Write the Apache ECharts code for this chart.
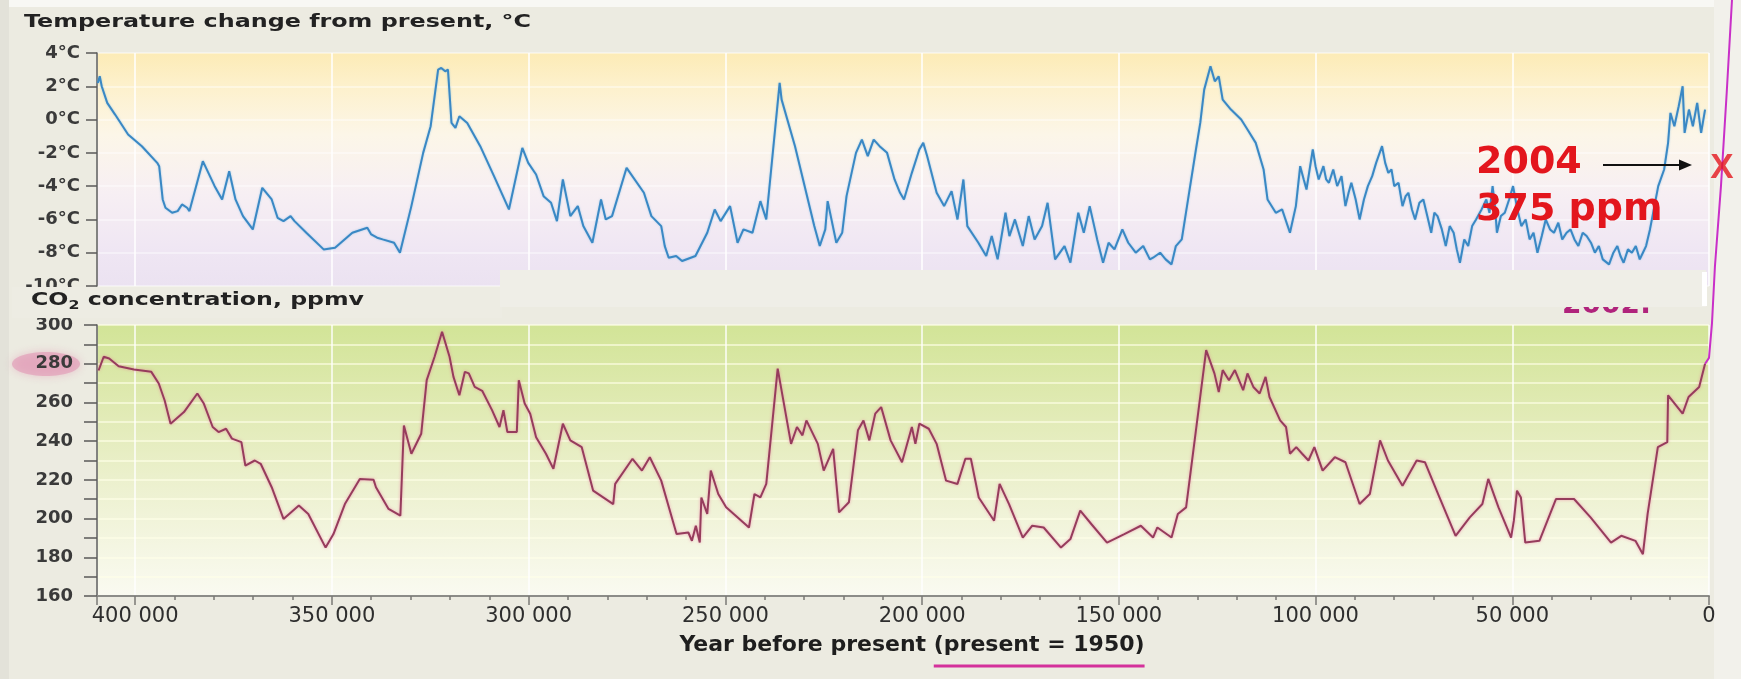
<!DOCTYPE html>
<html><head><meta charset="utf-8">
<script src="https://cdn.jsdelivr.net/npm/echarts@6/dist/echarts.min.js"></script>
<style>html,body{margin:0;padding:0;background:#ecebe1;}#c{width:1741px;height:679px;}</style>
</head><body><div id="c"></div>
<script>
// Temperature change from present (°C), [year before present, value]
const tempSeries = [
[409500,2.2],[409000,2.6],[408500,2.0],[407100,1.0],[405100,0.3],[401800,-0.9],[398300,-1.6],[394400,-2.6],[393900,-2.8],[393000,-4.8],[392300,-5.3],[390600,-5.6],[389200,-5.5],[388100,-5.1],[386800,-5.3],[386200,-5.5],[382800,-2.5],[379800,-4.0],[377900,-4.8],[376100,-3.1],[374500,-4.8],[372600,-5.8],[370100,-6.6],[367700,-4.1],[365300,-4.8],[363800,-5.9],[362300,-6.1],[360500,-5.8],[359500,-6.1],[356500,-6.8],[352100,-7.8],[349200,-7.7],[344800,-6.8],[341000,-6.5],[340000,-6.9],[338500,-7.1],[337100,-7.2],[334200,-7.4],[332700,-8.0],[329800,-5.2],[326800,-2.0],[324900,-0.4],[323000,3.0],[322200,3.1],[321200,2.9],[320500,3.0],[319600,-0.2],[318600,-0.5],[317600,0.2],[315600,-0.2],[312300,-1.6],[308800,-3.4],[305000,-5.4],[301600,-1.7],[300100,-2.6],[298100,-3.3],[296200,-4.6],[294300,-5.0],[292800,-6.1],[291300,-3.6],[289400,-5.8],[287500,-5.2],[286100,-6.4],[283800,-7.4],[281600,-4.8],
[280400,-6.0],[278800,-5.8],[275100,-2.9],[270700,-4.4],[268800,-5.8],[266300,-6.4],[265400,-7.6],[264400,-8.3],[262500,-8.2],[261000,-8.5],[257600,-8.2],[254600,-6.8],[252700,-5.4],[251200,-6.1],[248800,-5.2],[246900,-7.4],[245400,-6.6],[243100,-6.8],[241100,-4.9],[239600,-6.0],[236200,2.2],[235700,1.2],[232300,-1.6],[227400,-6.4],[226000,-7.6],[224600,-6.6],[224000,-4.9],[221800,-7.4],[220300,-6.8],[219200,-4.6],[216800,-2.0],[215300,-1.2],[213800,-2.2],[212300,-1.2],[210800,-1.6],[208900,-2.0],[207000,-3.6],[205600,-4.4],[204600,-4.8],[202600,-3.2],[200700,-1.8],[199700,-1.4],[198700,-2.2],[196300,-4.4],[194400,-5.2],[192500,-4.3],[191000,-6.0],[189500,-3.6],[188500,-6.4],[185700,-7.4],[183700,-8.2],[182300,-7.0],[180800,-8.4],[178800,-5.6],[177800,-7.0],[176400,-6.0],[174400,-7.6],[172900,-5.8],[171400,-7.2],[169500,-6.4],[168100,-5.0],[166200,-8.4],[163800,-7.6],[162300,-8.6],[160300,-5.6],[158900,-6.8],[157400,-5.2],[155500,-7.2],[154000,-8.6],[152600,-7.4],[151100,-7.8],[149100,-6.6],[147600,-7.4],[145700,-8.0],[143800,-7.6],[142100,-8.4],
[141300,-8.3],[139500,-8.0],[138100,-8.4],[136600,-8.7],[135500,-7.6],[134000,-7.2],[132400,-4.8],[130400,-1.8],[129300,-0.2],[128300,1.8],[126700,3.2],[125600,2.3],[124600,2.6],[123600,1.2],[121500,0.6],[118900,0.0],[117300,-0.6],[115200,-1.4],[113200,-3.0],[112200,-4.8],[110100,-5.6],[108500,-5.4],[106500,-6.8],[105000,-5.2],
[103900,-2.8],[103000,-3.6],[102300,-4.2],[101500,-3.0],[100700,-1.8],[100000,-2.8],[99200,-3.6],[98000,-2.8],[97300,-3.6],[96600,-3.8],[95500,-3.0],[94500,-4.0],[93400,-3.4],[92400,-5.2],[91600,-4.4],[90900,-3.8],[89800,-4.8],[88800,-6.0],[87700,-4.8],[86700,-4.0],[85600,-3.4],[84600,-2.6],[83100,-1.6],[82300,-2.6],[81500,-3.2],[80700,-3.0],[80000,-4.0],[78900,-3.8],[77900,-5.2],[77100,-4.6],[76400,-4.4],[75500,-5.4],[74700,-6.0],[73600,-5.0],[72600,-4.8],[71600,-5.8],[70600,-6.8],[69800,-5.6],[69000,-5.8],[67900,-6.6],[66900,-7.6],[65900,-6.4],[64900,-6.8],[64100,-7.8],[63300,-8.6],[62200,-7.2],[61200,-7.6],[60200,-6.4],[59200,-6.0],[57800,-5.4],[56600,-4.8],[55800,-5.6],[55000,-4.0],[54400,-5.2],[53900,-6.8],[52900,-5.8],[51900,-5.6],[50800,-4.8],[49800,-4.0],[48700,-5.4],[47700,-6.4],[46600,-6.0],[45600,-7.2],[44600,-6.8],[43600,-8.0],[42500,-7.0],[41500,-6.0],[40400,-6.6],[39400,-6.8],[38300,-6.2],[37300,-7.2],[36200,-6.8],[35200,-6.6],[34200,-7.2],[33200,-7.6],[32100,-6.8],[31100,-7.0],[30000,-7.4],[29000,-8.0],[28000,-7.6],[27000,-8.4],[25400,-8.7],[24300,-8.0],[23300,-7.6],[22500,-8.2],[21700,-8.6],[20600,-7.8],[19600,-8.0],[18600,-7.6],[17600,-8.4],[16800,-8.0],[16000,-7.6],[15000,-6.6],[12900,-4.0],[11400,-3.0],[10400,-1.4],[9800,0.4],[8800,-0.4],[7700,0.8],[6700,2.0],[6200,-0.8],[5100,0.6],[4100,-0.4],[3000,1.0],[2000,-0.8],[1000,0.6]
];
// CO2 concentration (ppmv), [year before present, value]
const co2Series = [
[409300,276.5],[408000,283.6],[406600,282.7],[404200,278.7],[400300,277],[395900,275.8],[394000,269.8],[392500,261],[391000,249],[387600,255],[384200,264.6],[382600,259.6],[380300,247.3],[378800,244.7],[376900,246.4],[375400,241.3],[373000,239.5],[372000,227.4],[369600,230],[368100,228.3],[365300,216.2],[362300,199.8],[358400,206.7],[356000,202.4],[351600,185],[349600,192],[346700,207.5],[342900,220.5],[339400,220],[338800,216.2],[335600,205],[332600,201.5],[331700,248.1],[329800,233.5],[327300,243.8],[325900,271.5],[323900,283.6],[322000,296.5],[320100,283.6],[319100,273.2],[317600,263.7],[316200,275.8],[315200,275],[313700,268],[311800,266],[309300,256],[307400,247.3],[306400,256],[305400,244.7],[303000,244.7],[302500,271.5],[301000,259.4],[299600,254.2],[298100,242],[295600,233.5],[293700,225.7],[291300,249],[289400,240.4],[286500,236.9],[283600,214.4],[278500,207.5],[278000,217.9],[273600,230.9],[271200,224.8],[269200,231.7],[266300,219.6],[262400,192],[259400,192.8],[258500,188.5],[257500,196.3],[256500,187.6],[256100,210.9],[254600,202.4],[253700,224.8],[251800,212.7],[249800,205.8],[244000,195.4],[242600,212.7],[241100,210.9],[239600,217.9],[236700,277.5],[233300,238.6],[231800,247.3],[230400,243],[229400,250.7],[226500,238.6],[225000,224.8],[222600,236],[221100,203.2],[218600,208.4],[216300,245.6],[214900,250.7],[213400,240.4],[211900,254.2],[210400,257.6],[208000,240.4],[205100,229.1],[202600,247.3],[201700,238.6],[200700,249],[198300,246.4],[196300,238.6],[193900,219.6],[191000,217.9],[189000,230.9],[187600,230.9],[185600,210.9],[181700,198.9],[180300,217.9],[177900,207.5],[174400,190.2],[172000,196.3],[169100,195.4],[164700,185],[162300,189.4],[159800,204.1],[157000,197.2],[153000,187.6],[148600,192],[144400,196.3],[141300,190.2],[140200,195.4],[136600,190.2],[135000,202.4],[132900,205.8],[130400,245.6],[127800,287],[125700,275],[124600,265.4],[123600,276.7],[122000,271.5],[120500,276.7],[118400,266.3],[117300,275],[115800,268],[114200,264.6],[112700,273.2],[111700,262.8],[109000,250.7],[107500,247.3],[106500,233.5],[104900,236.9],[103400,233.5],[101800,230],[100300,236.9],[98200,224.8],[95100,231.7],[92400,229.1],[88800,207.5],[86200,212.7],[83600,240.4],[81600,230],[77900,217],[74300,230],[72200,229.1],[68500,210.9],[64400,191.1],[60800,200.6],[57600,207.5],[56100,220.5],[53500,205.8],[50300,190.2],[49600,198.9],[48800,214.4],[47800,210.9],[46700,187.6],[43100,188.5],[38900,210.1],[34300,210.1],[30100,200.6],[24900,187.6],[22300,191.1],[18700,188.5],[16800,181.6],[15600,202.4],[13000,236.9],[10600,239.5],[10400,263.7],[6700,254.2],[5200,262.8],[2500,268],[1000,280]
];
// modern (industrial) CO2 rise, drawn past the axis end on an extended, hidden copy of the CO2 scale
const modernCo2 = [[1000,280],[0,283],[-760,301],[-1500,330],[-3050,372],[-4500,420],[-5900,470]];
const marker2004 = [[-3300,381]];
const yearMax = 409700;
const yearMajorStep = 50000;
const yearMinorStep = 10000;
const tempRange = {min:-10, max:4, step:2};
const co2Range = {min:160, max:300, step:10, labelStep:20};

const FONT = '"DejaVu Sans", "Liberation Sans", sans-serif';
const ctx = document.createElement('canvas').getContext('2d');
function tw(font, s){ ctx.font = font; return ctx.measureText(s).width; }
function fmtYear(v){ if (v % yearMajorStep !== 0) return ''; return String(v).replace(/\B(?=(\d{3})+(?!\d))/g,' '); }

const G0 = {left:97, top:53, width:1612, height:233};
const G1 = {left:97, top:325, width:1612, height:271};
const pxPerPpm = G1.height / (co2Range.max - co2Range.min);
const extYearMin = -7000;
const extPpmMax = co2Range.min + (G1.top + G1.height) / pxPerPpm;
const G2 = {left:G1.left, top:0, width:G1.width * (yearMax - extYearMin) / yearMax, height:G1.top + G1.height};

const fT = 'bold 18px "DejaVu Sans"';
const fSub = 'bold 12px "DejaVu Sans"';
const tTitle = 'Temperature change from present, °C';
const sTemp = 507 / tw(fT, tTitle);
const wCO = tw(fT,'CO'), w2 = tw(fSub,'2'), wRest = tw(fT,' concentration, ppmv');
const sCO2 = 333 / (wCO + w2 + wRest);

const axisName = 'Year before present (present = 1950)';
const fName = 'bold 22px "DejaVu Sans"';
const wName = tw(fName, axisName);
const nameShift = 9;
const nameCx = G1.left + G1.width/2 + nameShift;
const ulStart = nameCx - wName/2 + tw(fName, 'Year before present ');
const ulEnd = nameCx + wName/2;

function txt(x, y, text, font, fill, z, extra){
  return Object.assign({type:'text', x:x, y:y, z:z||20, style:{text:text, font:font, fill:fill, textAlign:'left', textVerticalAlign:'middle', align:'left', verticalAlign:'middle'}}, extra||{});
}

const tempBg = new echarts.graphic.LinearGradient(0,0,0,1,[
  {offset:0,color:'#fcebb6'},{offset:0.12,color:'#fdf0c9'},{offset:0.35,color:'#fcf6e8'},
  {offset:0.6,color:'#f7eff3'},{offset:0.85,color:'#efe6f3'},{offset:1,color:'#ebe2f1'}]);
const co2Bg = new echarts.graphic.LinearGradient(0,0,0,1,[
  {offset:0,color:'#d2e497'},{offset:0.3,color:'#e0eab3'},{offset:0.6,color:'#edf1d0'},{offset:1,color:'#fafaf1'}]);

const labelStyle = {fontFamily:FONT, fontSize:18, fontWeight:'bold', color:'#3a3a3a'};

const option = {
  backgroundColor:'#ecebe1',
  animation:false,
  grid:[
    Object.assign({show:true, backgroundColor:tempBg, borderWidth:0}, G0),
    Object.assign({show:true, backgroundColor:co2Bg, borderWidth:0}, G1),
    Object.assign({show:false}, G2)
  ],
  xAxis:[
    {gridIndex:0, type:'value', position:'bottom', inverse:true, min:0, max:yearMax, interval:yearMajorStep,
     axisLine:{show:false, onZero:false}, axisTick:{show:false}, axisLabel:{show:false},
     splitLine:{show:true, lineStyle:{color:'rgba(255,255,255,0.75)', width:2}}},
    {gridIndex:1, type:'value', position:'bottom', inverse:true, min:0, max:yearMax, interval:yearMinorStep,
     axisLine:{show:true, onZero:false, lineStyle:{color:'#8c8c88', width:2}},
     axisTick:{show:true, length:4, lineStyle:{color:'#7a7a76', width:1.5}},
     axisLabel:{show:false}, splitLine:{show:false}},
    {gridIndex:1, type:'value', position:'bottom', offset:0, inverse:true, min:0, max:yearMax, interval:yearMajorStep,
     axisLine:{show:false, onZero:false},
     axisTick:{show:true, length:9, lineStyle:{color:'#7a7a76', width:1.5}},
     axisLabel:{show:true, formatter:fmtYear, margin:10, fontFamily:FONT, fontSize:21, color:'#2e2e2e'},
     splitLine:{show:true, lineStyle:{color:'rgba(255,255,255,0.7)', width:2}},
     name:axisName, nameLocation:'middle', nameGap:38,
     nameTextStyle:{fontFamily:FONT, fontWeight:'bold', fontSize:22, color:'#1e1e1e', padding:[0,0,0,nameShift*2]}},
    {gridIndex:2, type:'value', show:false, inverse:true, min:extYearMin, max:yearMax}
  ],
  yAxis:[
    {gridIndex:0, type:'value', position:'left', min:tempRange.min, max:tempRange.max, interval:tempRange.step,
     axisLine:{show:true, onZero:false, lineStyle:{color:'#5a5a58', width:1.5}},
     axisTick:{show:true, length:11, lineStyle:{color:'#5a5a58', width:1.5}},
     axisLabel:Object.assign({formatter:function(v){return v+'°C';}, margin:17}, labelStyle),
     splitLine:{show:true, lineStyle:{color:'rgba(255,255,255,0.55)', width:1.5}}},
    {gridIndex:1, type:'value', position:'left', min:co2Range.min, max:co2Range.max, interval:co2Range.step,
     axisLine:{show:true, onZero:false, lineStyle:{color:'#5a5a58', width:1.5}},
     axisTick:{show:true, length:13, lineStyle:{color:'#5a5a58', width:1.5}},
     axisLabel:Object.assign({formatter:function(v){return v % co2Range.labelStep === 0 ? String(v) : '';}, margin:24}, labelStyle),
     splitLine:{show:true, lineStyle:{color:'rgba(255,255,232,0.8)', width:1.5}}},
    {gridIndex:2, type:'value', show:false, min:co2Range.min, max:extPpmMax}
  ],
  series:[
    {type:'line', name:'Temperature', xAxisIndex:0, yAxisIndex:0, data:tempSeries, showSymbol:false, z:3,
     lineStyle:{color:'#3a88c4', width:2, shadowColor:'rgba(100,175,225,0.6)', shadowBlur:2}},
    {type:'line', name:'CO2', xAxisIndex:2, yAxisIndex:1, data:co2Series, showSymbol:false, z:3,
     lineStyle:{color:'#963c5c', width:2, shadowColor:'rgba(235,90,150,0.55)', shadowBlur:3}},
    {type:'line', name:'Modern CO2', xAxisIndex:3, yAxisIndex:2, data:modernCo2, showSymbol:false, clip:false, z:30,
     lineStyle:{color:'#c92fc8', width:2}},
    {type:'scatter', name:'2004', xAxisIndex:3, yAxisIndex:2, data:marker2004, clip:false, symbolSize:1, z:31,
     itemStyle:{color:'rgba(0,0,0,0)'},
     label:{show:true, position:'inside', formatter:'X', fontFamily:'"Liberation Sans", Arial, sans-serif', fontWeight:'bold', fontSize:35, color:'#e3161d'}}
  ],
  graphic:{elements:[
    {type:'rect', z:-10, shape:{x:0,y:0,width:1741,height:7}, style:{fill:'#f8f8f4'}},
    {type:'rect', z:-10, shape:{x:0,y:0,width:9,height:679}, style:{fill:'#e3e2d9'}},
    {type:'rect', z:-10, shape:{x:1714,y:0,width:27,height:679}, style:{fill:'#f2f1eb'}},
    {type:'ellipse', z:-1, shape:{cx:46, cy:364, rx:34, ry:12}, style:{fill:'rgba(225,150,180,0.6)', shadowBlur:8, shadowColor:'rgba(225,150,180,0.8)'}},
    txt(1562, 306, '2002: *', 'bold 28px "DejaVu Sans"', '#b0237c', 40),
    {type:'rect', z:50, shape:{x:12, y:287, width:490, height:31}, style:{fill:'#edece3'}},
    {type:'rect', z:50, shape:{x:500, y:270, width:1206, height:37}, style:{fill:'#efeee7'}},
    {type:'rect', z:51, shape:{x:1702, y:272, width:5, height:34}, style:{fill:'#ffffff'}},
    {type:'group', x:24, y:22, scaleX:sTemp, z:60, children:[ txt(0,0,tTitle,fT,'#222',60) ]},
    {type:'group', x:31, y:300, scaleX:sCO2, z:60, children:[
      txt(0,0,'CO',fT,'#222',60),
      txt(wCO,6,'2',fSub,'#222',60),
      txt(wCO+w2,0,' concentration, ppmv',fT,'#222',60)
    ]},
    txt(1476, 163, '2004', 'bold 38px "DejaVu Sans"', '#e3161d', 60),
    txt(1476, 210, '375 ppm', 'bold 38px "DejaVu Sans"', '#e3161d', 60),
    {type:'line', z:60, shape:{x1:1603, y1:165, x2:1682, y2:165}, style:{stroke:'#111', lineWidth:2}},
    {type:'polygon', z:60, shape:{points:[[1692,165],[1679,159.5],[1679,170.5]]}, style:{fill:'#111'}},
    {type:'line', z:60, shape:{x1:ulStart, y1:666, x2:ulEnd, y2:666}, style:{stroke:'#d4319b', lineWidth:3}}
  ]}
};
const chart = echarts.init(document.getElementById('c'));
chart.setOption(option);
</script></body></html>
